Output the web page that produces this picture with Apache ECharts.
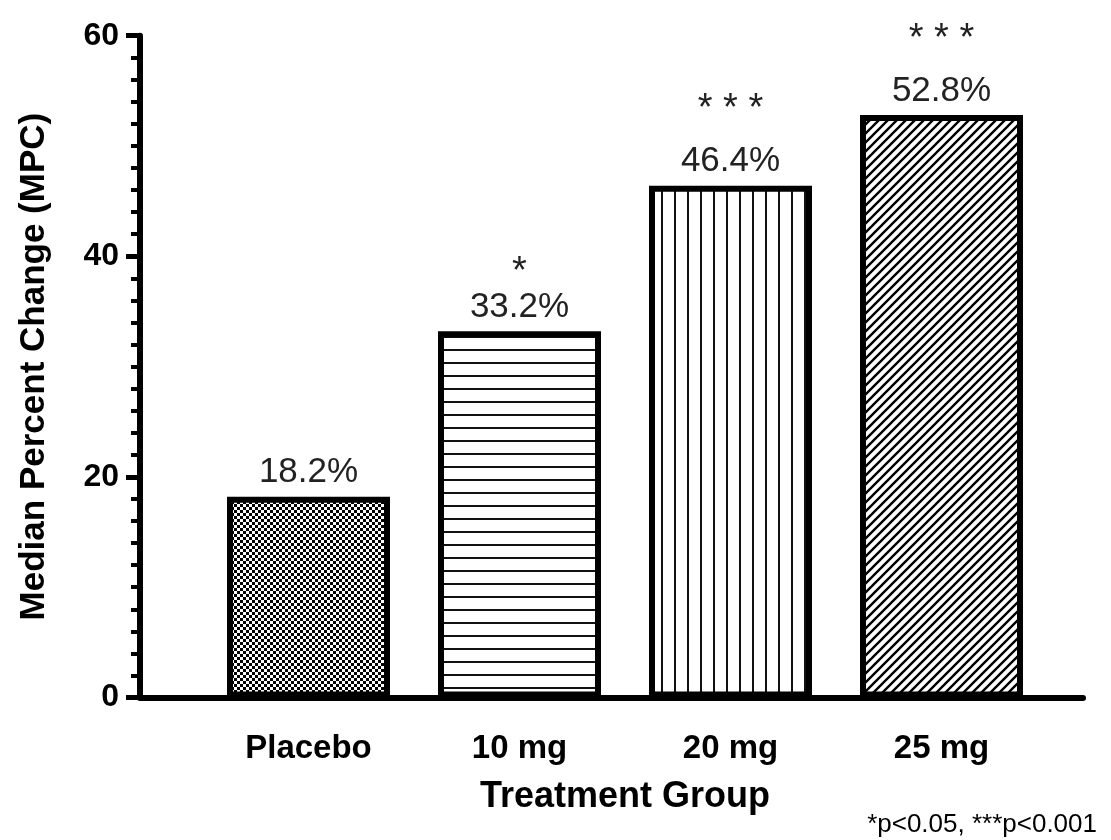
<!DOCTYPE html>
<html>
<head>
<meta charset="utf-8">
<script src="https://cdn.jsdelivr.net/npm/echarts@6/dist/echarts.min.js"></script>
<style>html,body{margin:0;padding:0;background:#fff;}#c{width:1111px;height:840px;}</style>
</head>
<body>
<div id="c"></div>
<script>
var categories = ['Placebo', '10 mg', '20 mg', '25 mg'];
var values = [18.2, 33.2, 46.4, 52.8];
var stars = ['', '*', '* * *', '* * *'];
var yTicks = [0, 20, 40, 60];
var footnote = '*p<0.05, ***p<0.001';

function makePattern(kind) {
  var c = document.createElement('canvas');
  var ctx = c.getContext('2d');
  if (kind === 'checker') {
    c.width = 6; c.height = 6;
    ctx.fillStyle = '#fff'; ctx.fillRect(0, 0, 6, 6);
    ctx.fillStyle = '#000';
    ctx.fillRect(0, 0, 3, 3); ctx.fillRect(3, 3, 3, 3);
  } else if (kind === 'hlines') {
    c.width = 13; c.height = 13;
    ctx.fillStyle = '#fff'; ctx.fillRect(0, 0, 13, 13);
    ctx.fillStyle = '#111'; ctx.fillRect(0, 11, 13, 2);
  } else if (kind === 'vlines') {
    c.width = 13; c.height = 13;
    ctx.fillStyle = '#fff'; ctx.fillRect(0, 0, 13, 13);
    ctx.fillStyle = '#111'; ctx.fillRect(11, 0, 2, 13);
  } else {
    var s = 9;
    c.width = s; c.height = s;
    ctx.fillStyle = '#fff'; ctx.fillRect(0, 0, s, s);
    ctx.strokeStyle = '#000'; ctx.lineWidth = 2.4;
    ctx.beginPath();
    ctx.moveTo(-s, 2 * s); ctx.lineTo(2 * s, -s);
    ctx.moveTo(-2 * s, 2 * s); ctx.lineTo(s, -s);
    ctx.moveTo(0, 2 * s); ctx.lineTo(3 * s, -s);
    ctx.stroke();
  }
  return { image: c, repeat: 'repeat' };
}
var patterns = [makePattern('checker'), makePattern('hlines'), makePattern('vlines'), makePattern('diag')];

var chart = echarts.init(document.getElementById('c'));
var font = 'Liberation Sans, Arial, sans-serif';
var gridTop = 35.7, gridBottom = 142.5;

var option = {
  animation: false,
  backgroundColor: '#fff',
  title: {
    text: footnote, right: 9, bottom: -3,
    textStyle: { fontFamily: font, fontWeight: 'normal', fontSize: 26, color: '#000' }
  },
  grid: [
    { left: 140, right: 28, top: gridTop, bottom: gridBottom },
    { left: 203, right: 64, top: gridTop, bottom: gridBottom }
  ],
  xAxis: [
    { gridIndex: 0, type: 'value', min: 0, max: 1,
      axisLine: { show: true, lineStyle: { color: '#000', width: 6 } },
      axisTick: { show: false }, axisLabel: { show: false }, splitLine: { show: false } },
    { gridIndex: 1, type: 'category', data: categories,
      axisLine: { show: false }, axisTick: { show: false },
      axisLabel: { margin: 35, fontFamily: font, fontWeight: 'bold', fontSize: 33, color: '#000' },
      name: 'Treatment Group', nameLocation: 'middle', nameGap: 82,
      nameTextStyle: { fontFamily: font, fontWeight: 'bold', fontSize: 36, color: '#000' } }
  ],
  yAxis: [
    { gridIndex: 0, type: 'value', min: yTicks[0], max: yTicks[yTicks.length - 1], interval: yTicks[1] - yTicks[0],
      axisLine: { show: true, lineStyle: { color: '#000', width: 6 } },
      axisTick: { show: true, length: 14, lineStyle: { color: '#000', width: 5 } },
      minorTick: { show: true, splitNumber: 10, length: 9, lineStyle: { color: '#000', width: 4 } },
      axisLabel: { margin: 21, fontFamily: font, fontWeight: 'bold', fontSize: 32, color: '#000' },
      splitLine: { show: false },
      name: 'Median Percent Change (MPC)', nameLocation: 'middle', nameGap: 88,
      nameTextStyle: { fontFamily: font, fontWeight: 'bold', fontSize: 35, color: '#000' } },
    { gridIndex: 1, type: 'value', min: yTicks[0], max: yTicks[yTicks.length - 1], show: false }
  ],
  series: [{
    type: 'bar', xAxisIndex: 1, yAxisIndex: 1, barWidth: 163,
    data: values.map(function (v, i) {
      return { value: v, itemStyle: { color: patterns[i] } };
    }),
    itemStyle: { borderColor: '#000', borderWidth: 6 },
    label: {
      show: true, position: 'top', distance: 4,
      fontFamily: font, color: '#222',
      formatter: function (p) {
        var s = stars[p.dataIndex];
        var v = '{v|' + p.value.toFixed(1) + '%}';
        if (!s) return v;
        return (p.dataIndex === 1 ? '{s1|' : '{s|') + s + '}\n' + v;
      },
      rich: {
        v: { fontFamily: font, fontSize: 35, lineHeight: 40, color: '#222' },
        s: { fontFamily: font, fontSize: 38, lineHeight: 64, color: '#222' },
        s1: { fontFamily: font, fontSize: 38, lineHeight: 30, color: '#222' }
      }
    }
  }]
};
chart.setOption(option);
</script>
</body>
</html>
